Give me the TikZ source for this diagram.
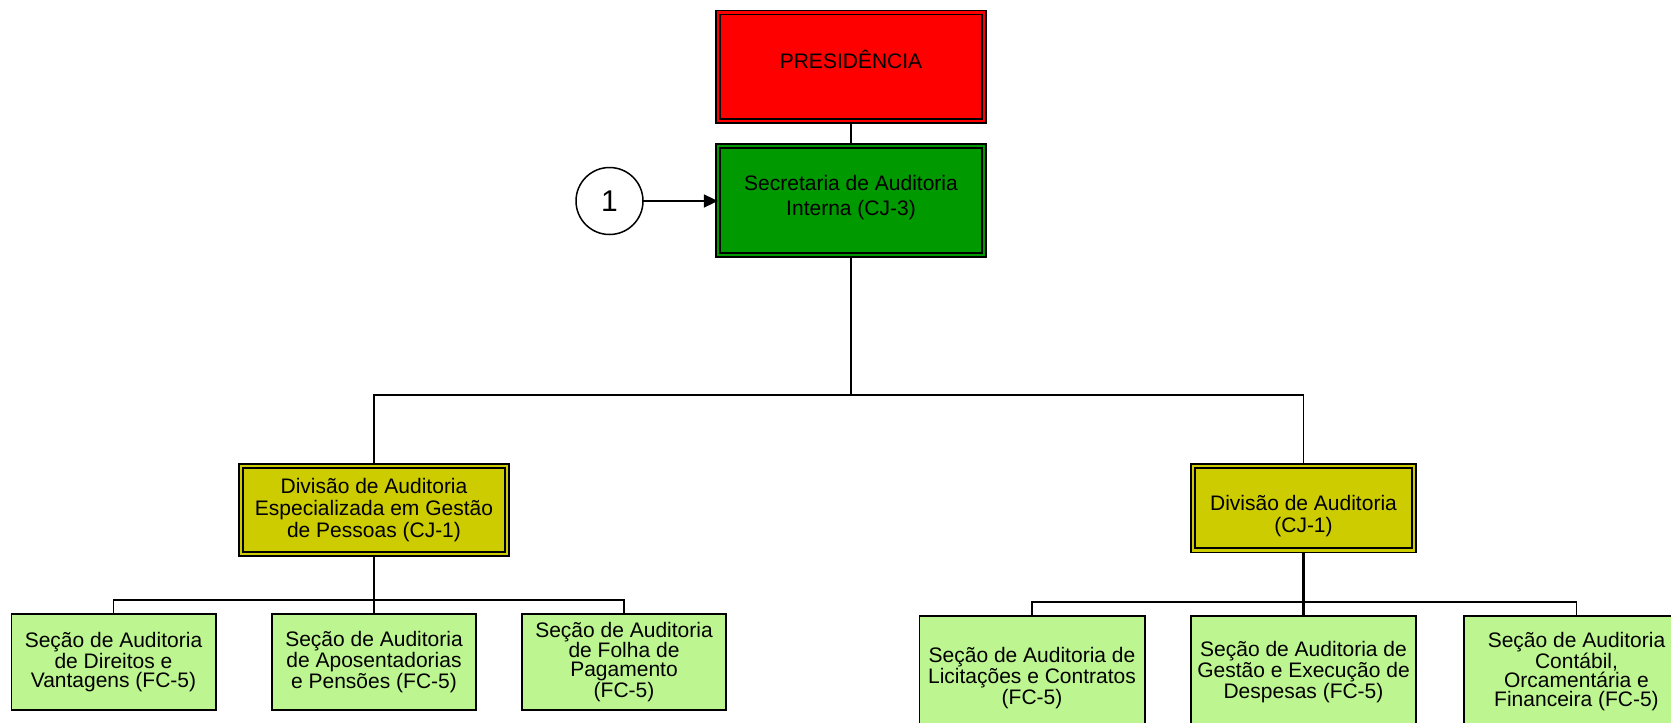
\documentclass[tikz,border=0pt]{standalone}
\usepackage{fontspec}
\setmainfont{Liberation Sans}
\usetikzlibrary{arrows.meta,backgrounds}
\definecolor{presred}{RGB}{255,0,0}
\definecolor{secgreen}{RGB}{0,153,0}
\definecolor{divyel}{RGB}{204,204,0}
\definecolor{seclight}{RGB}{189,246,145}
\begin{document}
\begin{tikzpicture}[x=1pt,y=-1pt,
  conn/.style={line width=1.5pt, black},
  connthick/.style={line width=2.6pt, black},
  dblbox/.style={draw=black, line width=1.7pt, double distance=2.4pt, inner sep=2pt, outer sep=0pt, align=center, font=\fontsize{21}{22}\selectfont},
  secbox/.style={draw=black, line width=1.8pt, fill=seclight, inner sep=2pt, outer sep=0pt, align=center, font=\fontsize{21}{19}\selectfont},
  numcircle/.style={circle, draw=black, line width=1.5pt, fill=white, minimum size=67pt, inner sep=0pt, outer sep=0pt, font=\fontsize{30}{30}\selectfont}
]
\useasboundingbox (0,0) rectangle (1671,723);
\clip (0,0) rectangle (1671,723);

% top boxes
\node[dblbox, double=presred, fill=presred, minimum width=266.2pt, minimum height=108.6pt] (pres) at (851,66.8) {PRESIDÊNCIA\rule[-14pt]{0pt}{14pt}};
\node[dblbox, double=secgreen, fill=secgreen, minimum width=266.2pt, minimum height=109.2pt, font=\fontsize{21}{25}\selectfont] (sec) at (851,200.5) {Secretaria de Auditoria\\Interna (CJ-3)\rule[-10pt]{0pt}{10pt}};
\node[numcircle] (one) at (609.5,201) {1};

% divisions
\node[dblbox, double=divyel, fill=divyel, minimum width=266.2pt, minimum height=88.2pt] (divL) at (374,510) {Divisão de Auditoria\\Especializada em Gestão\\de Pessoas (CJ-1)\rule[-4pt]{0pt}{4pt}};
\node[dblbox, double=divyel, fill=divyel, minimum width=221.2pt, minimum height=84.6pt] (divR) at (1303.5,508) {\rule{0pt}{31pt}Divisão de Auditoria\\(CJ-1)};

% left sections
\node[secbox, minimum width=204.2pt, minimum height=96.2pt] (sA) at (113.5,662) {Seção de Auditoria\\de Direitos e\\Vantagens (FC-5)};
\node[secbox, minimum width=204.2pt, minimum height=96.2pt] (sB) at (374,662) {Seção de Auditoria\\de Aposentadorias\\e Pensões (FC-5)};
\node[secbox, minimum width=204.2pt, minimum height=96.2pt] (sC) at (624,662) {Seção de Auditoria\\de Folha de\\Pagamento\\(FC-5)};

% right sections
\node[secbox, minimum width=225.2pt, minimum height=124pt] (sD) at (1032,678) {Seção de Auditoria de\\Licitações e Contratos\\(FC-5)};
\node[secbox, minimum width=225.2pt, minimum height=124pt] (sE) at (1303.5,678) {Seção de Auditoria de\\Gestão e Execução de\\Despesas (FC-5)\rule[-16pt]{0pt}{16pt}};
\node[secbox, minimum width=225.2pt, minimum height=124pt] (sF) at (1576.5,678) {Seção de Auditoria\\Contábil,\\Orcamentária e\\Financeira (FC-5)\rule[-18pt]{0pt}{18pt}};

\coordinate (busT) at (851,395);
\coordinate (busL) at (374,600);
\coordinate (busR) at (1303.5,602);

\begin{scope}[on background layer]
\fill[white] (0,0) rectangle (1671,723);
\draw[conn] (pres.south) -- (sec.north);
\draw[conn] (sec.south) -- (busT);
\draw[conn] (divL.north) |- (busT) -| (divR.north);
\draw[conn] (sA.north) |- (busL) -| (sC.north);
\draw[connthick] (divL.south) -- (sB.north);
\draw[conn] (sD.north) |- (busR) -| (sF.north);
\draw[connthick] (divR.south) -- (sE.north);
\end{scope}
\draw[conn, -{Triangle[length=14pt,width=13pt]}] (one.east) -- (one.east -| sec.west);
\end{tikzpicture}
\end{document}
